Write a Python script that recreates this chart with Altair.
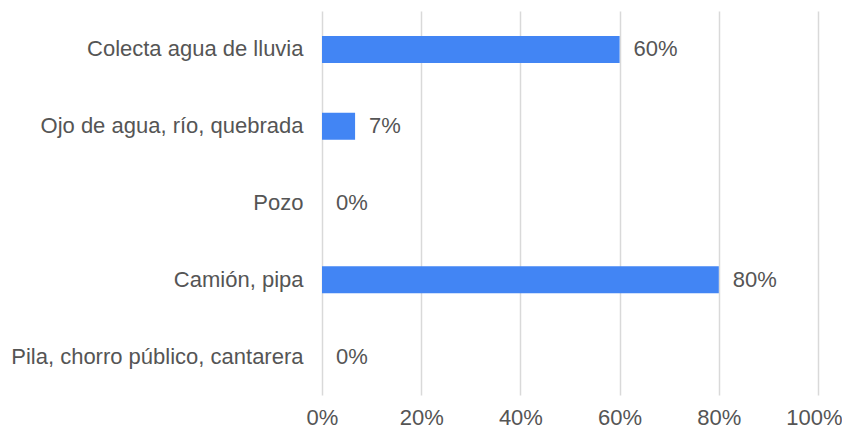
import altair as alt
import pandas as pd

categories = [
    "Colecta agua de lluvia",
    "Ojo de agua, río, quebrada",
    "Pozo",
    "Camión, pipa",
    "Pila, chorro público, cantarera",
]
values = [0.60, 0.0667, 0.0, 0.80, 0.0]
x_ticks = [0, 0.2, 0.4, 0.6, 0.8, 1.0]

df = pd.DataFrame({"cat": categories, "val": values})

FONT = "Liberation Sans"
GRAY = "#555555"

base = alt.Chart(df).encode(
    y=alt.Y(
        "cat:N",
        sort=categories,
        title=None,
        scale=alt.Scale(paddingInner=0, paddingOuter=0),
        axis=alt.Axis(
            ticks=False,
            domain=False,
            grid=False,
            labelPadding=19,
            labelFont=FONT,
            labelFontSize=22,
            labelColor=GRAY,
            labelLimit=400,
        ),
    ),
)

bars = base.mark_bar(size=27, color="#4285F4").encode(
    x=alt.X(
        "val:Q",
        title=None,
        scale=alt.Scale(domain=[0, 1], nice=False),
        axis=alt.Axis(
            values=x_ticks,
            format=".0%",
            ticks=False,
            domain=False,
            grid=True,
            gridColor="#d9d9d9",
            gridWidth=1.5,
            labelPadding=12,
            labelFlush=False,
            labelOverlap=False,
            labelOffset=alt.expr("datum.value == 1 ? -4 : 0"),
            labelFont=FONT,
            labelFontSize=22,
            labelColor=GRAY,
        ),
    )
)

labels = base.mark_text(
    align="left", baseline="middle", dx=14, font=FONT, fontSize=22, color=GRAY
).encode(
    x=alt.X("val:Q"),
    text=alt.Text("val:Q", format=".0%"),
)

chart = (
    alt.layer(bars, labels)
    .properties(
        width=496,
        height=384,
        autosize="none",
        padding={"left": 314, "top": 3, "right": 24, "bottom": 36},
        background="white",
    )
    .configure_view(stroke=None)
)

chart.save("out.html", embed_options={"renderer": "svg", "actions": False})
